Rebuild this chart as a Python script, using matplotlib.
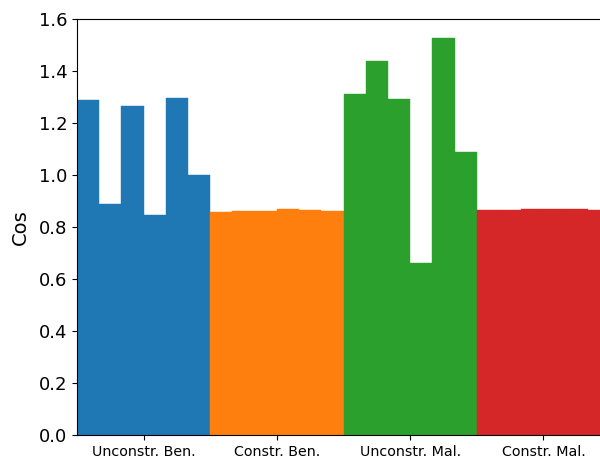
import numpy as np
import matplotlib
matplotlib.use("Agg")
import matplotlib.pyplot as plt

groups = ["Unconstr. Ben.", "Constr. Ben.", "Unconstr. Mal.", "Constr. Mal."]
colors = ["#1f77b4", "#ff7f0e", "#2ca02c", "#d62728"]

unconstr_ben = [1.288, 0.888, 1.264, 0.845, 1.296, 1.001]
constr_ben = [0.859, 0.863, 0.863, 0.869, 0.866, 0.862]
unconstr_mal = [1.312, 1.438, 1.292, 0.662, 1.526, 1.088]
constr_mal = [0.866, 0.866, 0.869, 0.869, 0.869, 0.866]

series = [unconstr_ben, constr_ben, unconstr_mal, constr_mal]

fig = plt.figure(figsize=(6.0, 4.58), dpi=100)
ax = fig.add_axes([77 / 600, 23 / 458, 533 / 600, 416 / 458])

pos = 0
centers = []
for vals, col in zip(series, colors):
    x = np.arange(pos, pos + len(vals))
    ax.bar(x, vals, width=1.0, color=col, edgecolor=col, linewidth=0.3)
    centers.append(x.mean())
    pos += len(vals)

ax.set_xlim(-0.5, pos - 0.5)
ax.set_ylim(0, 1.6)
ax.set_xticks(centers)
ax.set_xticklabels(groups, fontsize=10.3)
ax.tick_params(axis="y", labelsize=13)
ax.set_ylabel("Cos", fontsize=14, labelpad=6)

fig.savefig("out.png", dpi=100)
